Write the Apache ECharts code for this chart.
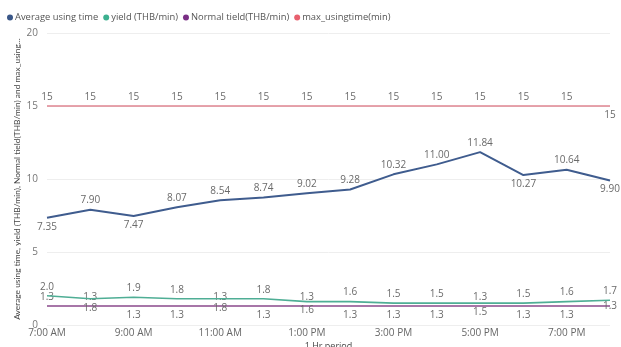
<!DOCTYPE html>
<html>
<head>
<meta charset="utf-8">
<script src="https://cdn.jsdelivr.net/npm/echarts@6/dist/echarts.min.js"></script>
<style>
  html, body { margin: 0; padding: 0; background: #fff; }
  #chart { width: 621px; height: 347px; }
</style>
</head>
<body>
<div id="chart"></div>
<script>
// Hourly periods from 7 AM to 8 PM
const hours = ['7:00 AM', '8:00 AM', '9:00 AM', '10:00 AM', '11:00 AM', '12:00 PM', '1:00 PM',
               '2:00 PM', '3:00 PM', '4:00 PM', '5:00 PM', '6:00 PM', '7:00 PM', '8:00 PM'];
const averageUsingTime = [7.35, 7.90, 7.47, 8.07, 8.54, 8.74, 9.02, 9.28, 10.32, 11.00, 11.84, 10.27, 10.64, 9.90];
const yieldTHB = [2.0, 1.8, 1.9, 1.8, 1.8, 1.8, 1.6, 1.6, 1.5, 1.5, 1.5, 1.5, 1.6, 1.7];
const normalYield = [1.3, 1.3, 1.3, 1.3, 1.3, 1.3, 1.3, 1.3, 1.3, 1.3, 1.3, 1.3, 1.3, 1.3];
const maxUsingTime = [15, 15, 15, 15, 15, 15, 15, 15, 15, 15, 15, 15, 15, 15];
const yTicks = [0, 5, 10, 15, 20];

const FONT = '"Open Sans", "Noto Sans", sans-serif';

// per-point label placement so neighbouring labels do not collide
function placed(values, posFn) {
  return values.map((v, i) => ({ value: v, label: { position: posFn(i) } }));
}
const avgBelow = new Set([0, 2, 11, 13]);
const swapLow = new Set([1, 4, 6, 10]);

function lineSeries(name, color, width, z, data, digits) {
  return {
    name, type: 'line', z,
    symbol: 'circle', symbolSize: 0.01, showSymbol: true,
    itemStyle: { color },
    color,
    lineStyle: { width, color },
    label: {
      show: true, fontFamily: FONT, fontSize: 10, color: '#6a6a6a', distance: 4,
      formatter: p => Number(p.value).toFixed(digits)
    },
    labelLayout: { hideOverlap: false },
    emphasis: { disabled: true },
    data
  };
}

const chart = echarts.init(document.getElementById('chart'), null, { renderer: 'canvas' });
chart.setOption({
  animation: false,
  textStyle: { fontFamily: FONT },
  legend: {
    left: 2, top: 8, itemGap: 5, itemWidth: 6, itemHeight: 6, icon: 'circle',
    textStyle: { fontFamily: FONT, fontSize: 9.4, color: '#555', padding: [0, 0, 0, -3] },
    data: [
      { name: 'Average using time', itemStyle: { color: '#3a5788' } },
      { name: 'yield (THB/min)', itemStyle: { color: '#3cb08f' } },
      { name: 'Normal tield(THB/min)', itemStyle: { color: '#7a2f85' } },
      { name: 'max_usingtime(min)', itemStyle: { color: '#e8606e' } }
    ]
  },
  grid: { left: 47, right: 11, top: 33, bottom: 22, containLabel: false, outerBoundsMode: 'none' },
  xAxis: {
    type: 'category', data: hours, boundaryGap: false,
    name: '1 Hr period', nameLocation: 'middle', nameGap: 17, nameMoveOverlap: false,
    nameTextStyle: { fontFamily: FONT, fontSize: 9, color: '#444' },
    axisLine: { show: false }, axisTick: { show: false },
    axisLabel: { interval: 1, fontFamily: FONT, fontSize: 10, color: '#666', margin: 3 }
  },
  yAxis: {
    type: 'value', min: yTicks[0], max: yTicks[yTicks.length - 1], interval: yTicks[1] - yTicks[0],
    name: 'Average using time, yield (THB/min), Normal tield(THB/min) and max_using...',
    nameLocation: 'middle', nameGap: 26, nameMoveOverlap: false,
    nameTextStyle: { fontFamily: 'Lato, "Open Sans", sans-serif', fontSize: 8.4, color: '#444' },
    axisLabel: { fontFamily: FONT, fontSize: 10, color: '#777', margin: 9, align: 'right' },
    splitLine: { lineStyle: { color: '#eeeeee', width: 1 } },
    axisLine: { show: false }, axisTick: { show: false }
  },
  series: [
    lineSeries('Average using time', '#3f5c8e', 2, 4,
      placed(averageUsingTime, i => avgBelow.has(i) ? 'bottom' : 'top'), 2),
    lineSeries('yield (THB/min)', '#4fae95', 1.6, 3,
      placed(yieldTHB, i => swapLow.has(i) ? 'bottom' : 'top'), 1),
    lineSeries('Normal tield(THB/min)', '#8a4a8c', 1.6, 2,
      placed(normalYield, i => i === 13 ? 'inside' : (swapLow.has(i) || i === 0) ? 'top' : 'bottom'), 1),
    lineSeries('max_usingtime(min)', '#e08591', 1.6, 2,
      placed(maxUsingTime, i => i === 13 ? 'bottom' : 'top'), 0)
  ]
});
</script>
</body>
</html>
